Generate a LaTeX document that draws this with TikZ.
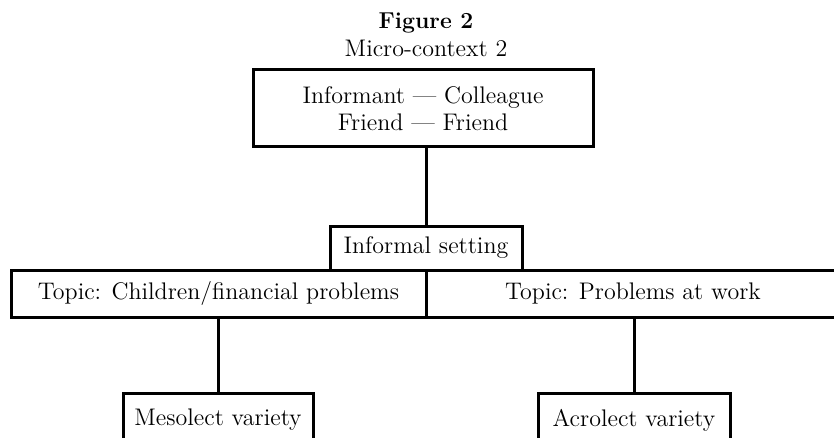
\documentclass[tikz,border=0pt]{standalone}
\usetikzlibrary{calc}

\tikzset{
    ctxbox/.style={draw, line width=1.5pt, inner sep=0pt, align=center},
    link/.style={line width=1.5pt}
}

\begin{document}
\begin{tikzpicture}[x=0.5pt, y=-0.5pt, font=\fontsize{12}{13.5}\selectfont]
            \clip (0, 0) rectangle (834, 438);
            \node[font=\fontsize{11.5}{13}\selectfont\bfseries] (fig) at (426, 23) {Figure 2};
            \node (ctx) at (426, 48) {Micro-context 2};
            \node[ctxbox, minimum width=170pt, minimum height=38.5pt] (pair) at (423, 108.5)
                {Informant --- Colleague\\Friend --- Friend};
            \node[ctxbox, minimum width=96pt, minimum height=22pt] (setting) at (426, 248) {Informal setting};
            \node[ctxbox, minimum width=207.5pt, minimum height=23.5pt] (topicL) at (218.5, 293.5)
                {Topic: Children/financial problems};
            \node[ctxbox, minimum width=207pt, minimum height=23.5pt] (topicR) at (633, 293.5)
                {Topic: Problems at work};
            \node[ctxbox, minimum width=95pt, minimum height=27pt] (meso) at (218, 420) {Mesolect variety};
            \node[ctxbox, minimum width=96pt, minimum height=27pt] (acro) at (634, 420) {Acrolect variety};
            \draw[link] (setting.north) -- (setting.north |- pair.south);
            \draw[link] (meso.north) -- (meso.north |- topicL.south);
            \draw[link] (acro.north) -- (acro.north |- topicR.south);
        \end{tikzpicture}
\end{document}
